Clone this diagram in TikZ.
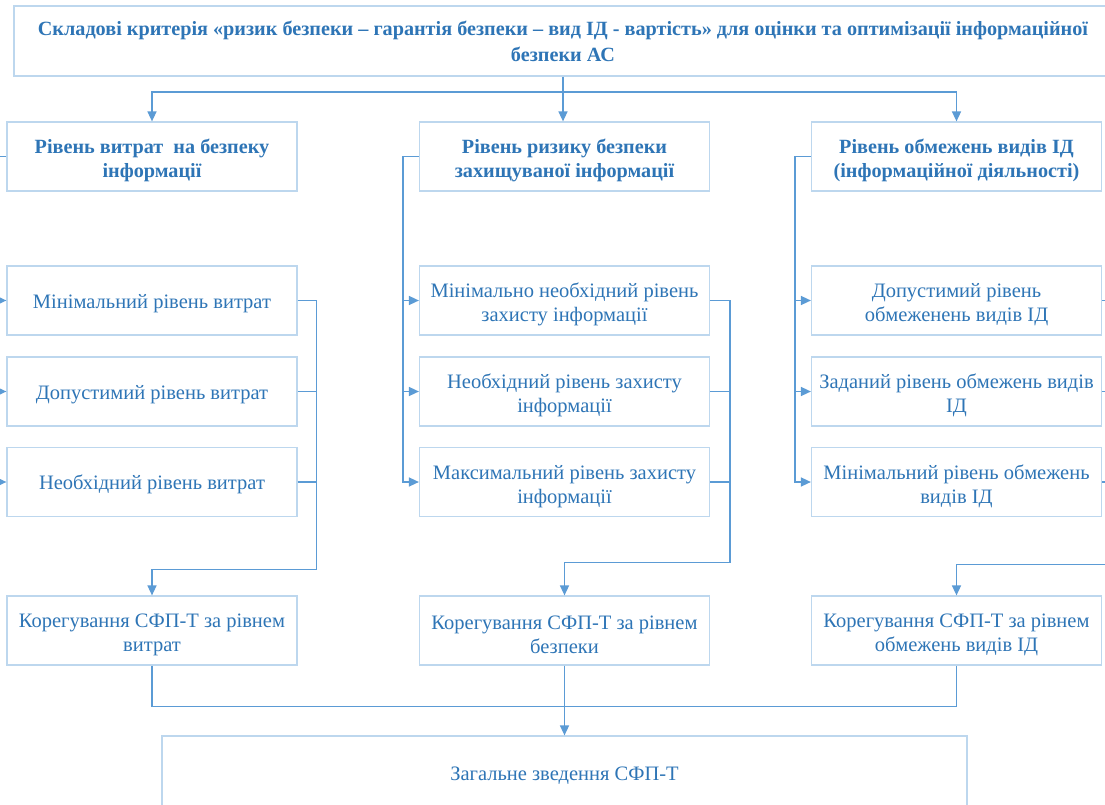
\documentclass[tikz,border=0pt]{standalone}
\usepackage{fontspec}
\setmainfont{Liberation Serif}
\usetikzlibrary{arrows.meta,calc}
\definecolor{linec}{RGB}{91,155,213}
\definecolor{boxc}{RGB}{189,215,238}
\definecolor{txtc}{RGB}{46,117,182}
\newcommand{\tallstrut}{\rule{0pt}{23pt}}
\tikzset{
  box/.style={draw=boxc, line width=1.2pt, text=txtc, align=center, inner sep=0pt,
    minimum width=290pt, minimum height=69pt,
    font=\fontsize{20.5}{24}\selectfont,
    execute at begin node={\rule{0pt}{20pt}}},
  hbox/.style={box, font=\fontsize{20.2}{24}\selectfont\bfseries},
  conn/.style={draw=linec, line width=1.5pt},
  arr/.style={conn, -{Triangle[length=10pt,width=9pt]}}
}
\begin{document}
\begin{tikzpicture}[x=1pt,y=-1pt]
\useasboundingbox (0,0) rectangle (1105,805);
\clip (0,0) rectangle (1105,805);
\fill[white] (0,0) rectangle (1105,805);
% title
\node[box, minimum width=1098pt, minimum height=70pt, font=\fontsize{20.2}{26}\selectfont\bfseries] (title) at (563,41)
 {Складові критерія «ризик безпеки – гарантія безпеки – вид ІД - вартість» для оцінки та оптимізації інформаційної\\безпеки АС};
% level 2
\node[hbox] (b1) at (152,156.5) {\tallstrut Рівень витрат\ \ на безпеку\\інформації};
\node[hbox] (b2) at (564.5,156.5) {\tallstrut Рівень ризику безпеки\\захищуваної інформації};
\node[hbox] (b3) at (956.5,156.5) {\tallstrut Рівень обмежень видів ІД\\(інформаційної діяльності)};
% column 1
\node[box] (m11) at (152,300.5) {Мінімальний рівень витрат};
\node[box] (m12) at (152,391.5) {Допустимий рівень витрат};
\node[box] (m13) at (152,482) {Необхідний рівень витрат};
% column 2
\node[box] (m21) at (564.5,300.5) {\tallstrut Мінімально необхідний рівень\\захисту інформації};
\node[box] (m22) at (564.5,391.5) {\tallstrut Необхідний рівень захисту\\інформації};
\node[box] (m23) at (564.5,482) {\tallstrut Максимальний рівень захисту\\інформації};
% column 3
\node[box] (m31) at (956.5,300.5) {\tallstrut Допустимий рівень\\обмеженень видів ІД};
\node[box] (m32) at (956.5,391.5) {\tallstrut Заданий рівень обмежень видів\\ІД};
\node[box] (m33) at (956.5,482) {\tallstrut Мінімальний рівень обмежень\\видів ІД};
% corrections
\node[box] (c1) at (152,630.5) {\tallstrut Корегування СФП-Т за рівнем\\витрат};
\node[box] (c2) at (564.5,630.5) {\tallstrut Корегування СФП-Т за рівнем\\безпеки};
\node[box] (c3) at (956.5,630.5) {\tallstrut Корегування СФП-Т за рівнем\\обмежень видів ІД};
% final
\node[box, minimum width=805pt, minimum height=72pt] (fin) at (564.5,772) {Загальне зведення СФП-Т};

% title connectors
\draw[arr] (title.south -| 563,0) -- (b2.north -| 563,0);
\coordinate (tb) at (563,92);
\draw[arr] (tb) -| (b1.north);
\draw[arr] (tb) -| (b3.north);

% left buses
\draw[conn] (b1.west) -- ++(-16,0) coordinate (l1);
\draw[arr] (l1) |- (m11.west);
\draw[arr] (l1) |- (m12.west);
\draw[arr] (l1) |- (m13.west);
\draw[conn] (b2.west) -- ++(-16,0) coordinate (l2);
\draw[arr] (l2) |- (m21.west);
\draw[arr] (l2) |- (m22.west);
\draw[arr] (l2) |- (m23.west);
\draw[conn] (b3.west) -- ++(-16,0) coordinate (l3);
\draw[arr] (l3) |- (m31.west);
\draw[arr] (l3) |- (m32.west);
\draw[arr] (l3) |- (m33.west);

% right buses
\draw[arr] (m11.east) -- ++(19,0) coordinate (r1) |- ($(c1.north)+(0,-26)$) -- (c1.north);
\draw[conn] (m12.east) -- (m12.east -| r1);
\draw[conn] (m13.east) -- (m13.east -| r1);
\draw[arr] (m21.east) -- ++(20,0) coordinate (r2) |- ($(c2.north)+(0,-33)$) -- (c2.north);
\draw[conn] (m22.east) -- (m22.east -| r2);
\draw[conn] (m23.east) -- (m23.east -| r2);
\draw[arr] (m31.east) -- ++(19,0) coordinate (r3) |- ($(c3.north)+(0,-31)$) -- (c3.north);
\draw[conn] (m32.east) -- (m32.east -| r3);
\draw[conn] (m33.east) -- (m33.east -| r3);

% bottom
\draw[conn] (c1.south) -- ++(0,41) -| (c3.south);
\draw[arr] (c2.south) -- (fin.north);
\end{tikzpicture}
\end{document}
